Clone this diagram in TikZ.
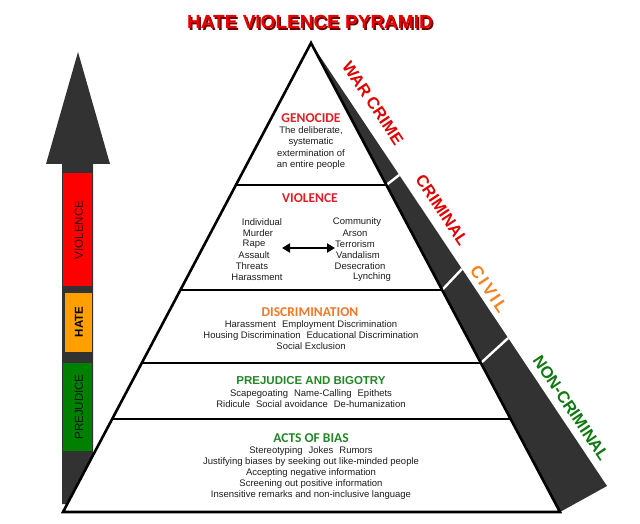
\documentclass[tikz,border=0pt]{standalone}
\usepackage{fontspec}
\setmainfont{Liberation Sans}
\newfontfamily\hdrfont{Carlito}
\usetikzlibrary{arrows.meta,calc}
\definecolor{darkfill}{RGB}{50,50,50}
\definecolor{blkred}{RGB}{255,0,0}
\definecolor{blkorange}{RGB}{255,160,0}
\definecolor{blkgreen}{RGB}{0,128,0}
\definecolor{bodytxt}{RGB}{30,30,30}
\definecolor{hdrred}{RGB}{225,30,35}
\definecolor{hdrorange}{RGB}{240,120,40}
\definecolor{hdrgreen}{RGB}{35,135,40}
\definecolor{sidered}{RGB}{225,0,0}
\definecolor{sideorange}{RGB}{245,130,30}
\definecolor{sidegreen}{RGB}{15,120,15}
\definecolor{titlered}{RGB}{230,0,0}
\definecolor{titleshadow}{RGB}{110,0,0}
\newcommand{\mygap}{\hspace{6pt}}
\begin{document}
\begin{tikzpicture}[x=1pt,y=-1pt,
  body/.style={font=\fontsize{9.5}{11.2}\selectfont, text=bodytxt, inner sep=0pt, align=center},
  word/.style={font=\fontsize{9.5}{11.2}\selectfont, text=bodytxt, inner sep=0pt},
  hdr/.style={font=\hdrfont\bfseries\fontsize{13.5}{14}\selectfont, inner sep=0pt},
  side/.style={font=\bfseries\fontsize{16.5}{17}\selectfont, inner sep=0pt, rotate=-56.25},
  shaftlbl/.style={font=\fontsize{11.5}{12}\selectfont, inner sep=0pt, rotate=90},
  lvl/.style={line width=2.6pt, line cap=butt},
  sepline/.style={draw=white, line width=2.4pt},
  dblarrow/.style={line width=2.6pt, {Triangle[width=9pt,length=8pt]}-{Triangle[width=9pt,length=8pt]}}
]
\path[use as bounding box, fill=white] (0,0) rectangle (640,524);

% title
\node[font=\bfseries\fontsize{19}{20}\selectfont, text=titleshadow, inner sep=0pt] (titleS) at (311.5,23.5) {HATE VIOLENCE PYRAMID};
\node[font=\bfseries\fontsize{19}{20}\selectfont, text=titlered, inner sep=0pt] (title) at (310,22) {HATE VIOLENCE PYRAMID};

% left arrow
\fill[darkfill] (62,504) -- (62,164) -- (46,164) -- (78,52) -- (110,164) -- (93,164) -- (93,504) -- cycle;
\fill[blkred] (63,173) rectangle (92,286);
\filldraw[fill=blkorange, draw=darkfill, line width=0.6pt] (64,292) rectangle (92,352);
\fill[blkgreen] (63,363) rectangle (92,451);
\node[shaftlbl, text={rgb,255:red,50;green,0;blue,0}] (sviol) at (79,230) {VIOLENCE};
\node[shaftlbl, font=\bfseries\fontsize{11.5}{12}\selectfont, text=black] (shate) at (79,322) {HATE};
\node[shaftlbl, text={rgb,255:red,10;green,20;blue,10}] (sprej) at (79,407) {PREJUDICE};

% pyramid geometry
\coordinate (apex) at (311,43);
\coordinate (bl) at (63,512);
\coordinate (br) at (560,512);
\coordinate (ob) at (607,486);

% dark side strip
\fill[darkfill] (apex) -- (ob) -- (br) -- cycle;
\draw[sepline] ($(apex)!0.30277!(br)$) -- ($(apex)!0.298!(ob)$);
\draw[sepline] ($(apex)!0.52665!(br)$) -- ($(apex)!0.510!(ob)$);
\draw[sepline] ($(apex)!0.68230!(br)$) -- ($(apex)!0.666!(ob)$);

% white pyramid
\draw[fill=white, line width=2.6pt, line join=miter] (apex) -- (bl) -- (br) -- cycle;
\draw[lvl] ($(apex)!0.30277!(bl)$) -- ($(apex)!0.30277!(br)$);
\draw[lvl] ($(apex)!0.52665!(bl)$) -- ($(apex)!0.52665!(br)$);
\draw[lvl] ($(apex)!0.68230!(bl)$) -- ($(apex)!0.68230!(br)$);
\draw[lvl] ($(apex)!0.80171!(bl)$) -- ($(apex)!0.80171!(br)$);

% side labels
\node[side, text=sidered] (war) at (373,103) {WAR CRIME};
\node[side, text=sidered] (crim) at (442,210) {CRIMINAL};
\node[side, text=sideorange, font=\bfseries\fontsize{17}{17}\selectfont\addfontfeatures{LetterSpace=14}] (civ) at (489,289) {CIVIL};
\node[side, text=sidegreen] (nonc) at (571,408) {NON-CRIMINAL};

% genocide
\node[hdr, text=hdrred] (genh) at (311,118) {GENOCIDE};
\node[body] (genb) at (311,148) {The deliberate,\\systematic\\extermination of\\an entire people};

% violence
\node[hdr, text=hdrred] (violh) at (310,198) {VIOLENCE};
\node[word] (vl1) at (262,222) {Individual};
\node[word] (vl2) at (258,233) {Murder};
\node[word] (vl3) at (254,244) {Rape};
\node[word] (vl4) at (254,255) {Assault};
\node[word] (vl5) at (252,266) {Threats};
\node[word] (vl6) at (257,277) {Harassment};
\node[word] (vr1) at (357,222) {Community};
\node[word] (vr2) at (355,233) {Arson};
\node[word] (vr3) at (355,244) {Terrorism};
\node[word] (vr4) at (358,255) {Vandalism};
\node[word] (vr5) at (360,266) {Desecration};
\node[word] (vr6) at (372,277) {Lynching};
\coordinate (vaL) at (282,248);
\coordinate (vaR) at (335,248);
\draw[dblarrow] (vaL) -- (vaR);

% discrimination
\node[hdr, text=hdrorange] (disch) at (310,312) {DISCRIMINATION};
\node[body] (discb) at (311,335) {Harassment\mygap Employment Discrimination\\Housing Discrimination\mygap Educational Discrimination\\Social Exclusion};

% prejudice
\node[font=\bfseries\fontsize{11.5}{12}\selectfont, text=hdrgreen, inner sep=0pt] (prejh) at (311,381) {PREJUDICE AND BIGOTRY};
\node[body] (prejb) at (311,399) {Scapegoating\mygap Name-Calling\mygap Epithets\\Ridicule\mygap Social avoidance\mygap De-humanization};

% acts of bias
\node[hdr, text=hdrgreen] (biash) at (311,438) {ACTS OF BIAS};
\node[body] (biasb) at (311,473) {Stereotyping\mygap Jokes\mygap Rumors\\Justifying biases by seeking out like-minded people\\Accepting negative information\\Screening out positive information\\Insensitive remarks and non-inclusive language};
\end{tikzpicture}
\end{document}
